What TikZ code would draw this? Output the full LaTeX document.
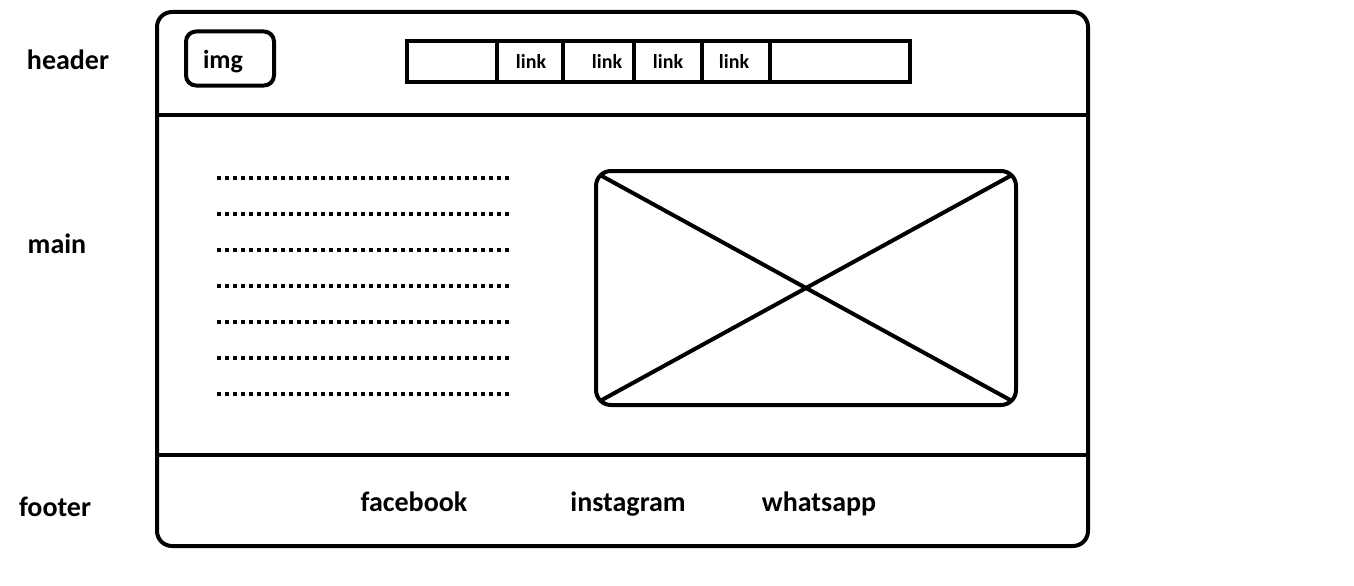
\documentclass[tikz,border=0pt]{standalone}
\usepackage{fontspec}
\setmainfont{Carlito}
\begin{document}
\begin{tikzpicture}[x=1pt,y=-1pt,
  lbl/.style={font=\bfseries\fontsize{28}{30}\selectfont, inner sep=0pt, anchor=base},
  lnk/.style={font=\bfseries\fontsize{20}{22}\selectfont, inner sep=0pt, anchor=base},
  thick line/.style={line width=4pt},
  dots/.style={line width=4pt, dash pattern=on 4pt off 4pt}
]
\useasboundingbox (0,0) rectangle (1354,586);
\fill[white] (0,0) rectangle (1354,586);
% outer frame
\draw[thick line, rounded corners=15pt] (157,12) rectangle (1088,546);
\coordinate (hl) at (157,115); \coordinate (hr) at (1088,115);
\coordinate (fl) at (157,455); \coordinate (fr) at (1088,455);
\draw[thick line] (hl) -- (hr);
\draw[thick line] (fl) -- (fr);
% side labels
\node[lbl] (header) at (68,70) {header};
\node[lbl] (main) at (57,253) {main};
\node[lbl] (footer) at (55,516) {footer};
% img box
\node[thick line, draw, rounded corners=10pt, minimum width=88pt, minimum height=54pt, inner sep=0pt] (img) at (230,58.5) {};
\node[font=\bfseries\fontsize{26}{28}\selectfont, inner sep=0pt, anchor=base] (imgt) at (223,68) {img};
% nav bar
\draw[thick line] (407,41) rectangle (910,82);
\foreach \x in {497,563,634,702,770} \draw[thick line] (\x,41) -- (\x,82);
\node[lnk] (l1) at (531,69) {link};
\node[lnk] (l2) at (607,69) {link};
\node[lnk] (l3) at (668,69) {link};
\node[lnk] (l4) at (734,69) {link};
% dotted text lines
\foreach \y in {178,214,250,286,322,358,394} \draw[dots] (217,\y) -- (509,\y);
% image placeholder
\node[thick line, draw, rounded corners=15pt, minimum width=420pt, minimum height=234pt, inner sep=0pt] (ph) at (806,288) {};
\coordinate (pa) at (600,175); \coordinate (pb) at (1012,401);
\coordinate (pc) at (1012,175); \coordinate (pd) at (600,401);
\draw[thick line] (pa) -- (pb);
\draw[thick line] (pc) -- (pd);
% footer links
\node[lbl] (fb) at (414,511) {facebook};
\node[lbl] (ig) at (628,511) {instagram};
\node[lbl] (wa) at (819,511) {whatsapp};
\end{tikzpicture}
\end{document}
